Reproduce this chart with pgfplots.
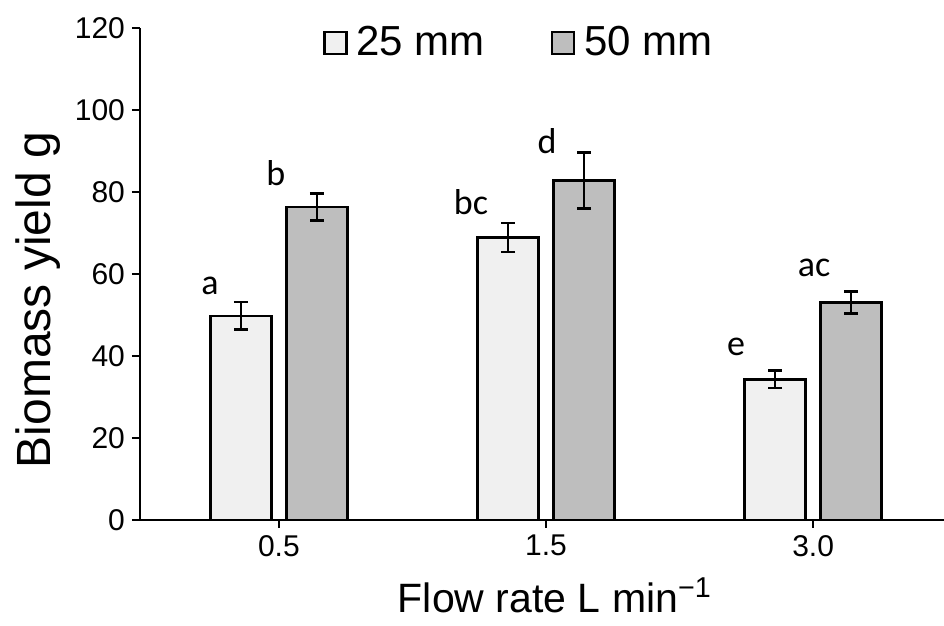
\documentclass[border=0pt]{standalone}
\usepackage{pgfplots}
\pgfplotsset{compat=1.18}
\usepackage{fontspec}
\setmainfont{Liberation Sans}
\newfontfamily\calibri{Carlito}
\definecolor{lightbar}{HTML}{F0F0F0}
\definecolor{darkbar}{HTML}{BEBEBE}
\begin{document}
\begin{tikzpicture}
\useasboundingbox (-70pt,-53pt) rectangle (402pt,260pt);
\begin{axis}[
  at={(0,0)}, anchor=south west,
  scale only axis, width=402pt, height=246pt,
  ybar, bar width=30.5pt,
  xmin=-0.52, xmax=2.49, ymin=0, ymax=120,
  axis x line=bottom, axis y line=left,
  axis line style={-, line width=1.3pt, black},
  xtick={0,1,2}, xticklabels={0.5,1.5,3.0},
  ytick={0,20,...,120},
  tick align=outside, major tick length=4pt,
  tick style={black, line width=1.3pt},
  /pgf/number format/assume math mode=true,
  tick label style={font=\fontsize{15}{17}\selectfont},
  xlabel={Flow rate L min\textsuperscript{−1}},
  ylabel={Biomass yield g},
  xlabel style={font=\fontsize{20.5}{24}\selectfont, at={(axis description cs:0.516,0)}, anchor=center, yshift=-37.5pt},
  ylabel style={font=\fontsize{24}{28}\selectfont, at={(axis description cs:-0.127,0.447)}, anchor=center},
  legend style={draw=none, fill=none, at={(axis description cs:0.22,0.97)}, anchor=west,
    font=\fontsize{21}{25}\selectfont, legend columns=2,
    /tikz/every even column/.append style={column sep=31pt}},
  legend image code/.code={\draw[#1, line width=1.2pt] (0pt,-5.5pt) rectangle (11pt,5.5pt);\path[draw=none,fill=none] (0pt,0pt) -- (14pt,0pt);},
  clip=false,
]
\addplot[fill=lightbar, draw=black, line width=1.3pt, bar shift=-19pt,
  error bars/.cd, y dir=both, y explicit,
  error bar style={line width=1.3pt, black},
  error mark options={rotate=90, mark size=3.5pt, line width=1.3pt, black}]
  coordinates {(0,49.8) +- (0,3.4) (1,68.9) +- (0,3.5) (2,34.3) +- (0,2.1)};
\addplot[fill=darkbar, draw=black, line width=1.3pt, bar shift=19pt,
  error bars/.cd, y dir=both, y explicit,
  error bar style={line width=1.3pt, black},
  error mark options={rotate=90, mark size=3.5pt, line width=1.3pt, black}]
  coordinates {(0,76.3) +- (0,3.3) (1,82.8) +- (0,6.8) (2,53.0) +- (0,2.7)};
\legend{25 mm, 50 mm}
\begin{scope}[every node/.style={font=\calibri\fontsize{18}{21}\selectfont, anchor=base, inner sep=0pt}]
\node at (axis cs:-0.258,55) {a};
\node at (axis cs:-0.011,81.5) {b};
\node at (axis cs:0.719,74.4) {bc};
\node at (axis cs:1.004,89.5) {d};
\node at (axis cs:1.712,40.2) {e};
\node at (axis cs:2.004,59.3) {ac};
\end{scope}
\end{axis}
\end{tikzpicture}
\end{document}
